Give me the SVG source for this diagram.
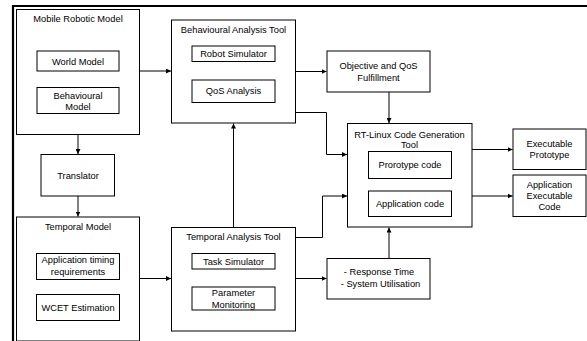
<svg xmlns="http://www.w3.org/2000/svg" width="587" height="341" viewBox="0 0 587 341">
<defs>
<style>
.b{fill:#fff;stroke:#000;stroke-width:1}
.t{font-family:"Liberation Sans",Arial,sans-serif;font-size:9.3px;fill:#000;text-anchor:middle}
.c{fill:none;stroke:#000;stroke-width:1}
</style>
<marker id="a" viewBox="0 0 6 6" refX="6" refY="3" markerWidth="5" markerHeight="5" markerUnits="userSpaceOnUse" orient="auto">
<path d="M0,0 L6,3 L0,6 z" fill="#000"/>
</marker>
</defs>
<rect width="587" height="341" fill="#fff"/>
<path d="M13,341 V6 H587" fill="none" stroke="#000" stroke-width="2.2"/>

<g id="mobile-robotic-model">
<rect class="b" x="16.5" y="9.5" width="123" height="125"/>
<text class="t" x="78" y="22">Mobile Robotic Model</text>
<rect class="b" x="37" y="51" width="82" height="20"/>
<text class="t" x="78" y="64.5">World Model</text>
<rect class="b" x="37" y="87.5" width="82" height="26"/>
<text class="t" x="78" y="98.5">Behavioural</text>
<text class="t" x="78" y="110">Model</text>
</g>

<g id="translator">
<rect class="b" x="41" y="154.5" width="73.5" height="41.5"/>
<text class="t" x="78" y="178.5">Translator</text>
</g>

<g id="temporal-model">
<rect class="b" x="16.5" y="217" width="123" height="124"/>
<text class="t" x="78" y="230">Temporal Model</text>
<rect class="b" x="36.5" y="253.5" width="83" height="26"/>
<text class="t" x="78" y="262.5">Application timing</text>
<text class="t" x="78" y="275">requirements</text>
<rect class="b" x="36.5" y="294.5" width="83" height="26"/>
<text class="t" x="78" y="310.5">WCET Estimation</text>
</g>

<g id="behavioural-analysis-tool">
<rect class="b" x="171.5" y="20" width="124" height="103"/>
<text class="t" x="233.5" y="33">Behavioural Analysis Tool</text>
<rect class="b" x="192" y="46" width="83" height="15.5"/>
<text class="t" x="233.5" y="57">Robot Simulator</text>
<rect class="b" x="192" y="80" width="83" height="22.5"/>
<text class="t" x="233.5" y="94">QoS Analysis</text>
</g>

<g id="temporal-analysis-tool">
<rect class="b" x="171.5" y="227.5" width="124" height="103.5"/>
<text class="t" x="233.5" y="240">Temporal Analysis Tool</text>
<rect class="b" x="192" y="253.5" width="83" height="15.5"/>
<text class="t" x="233.5" y="264.5">Task Simulator</text>
<rect class="b" x="192" y="287" width="83" height="23"/>
<text class="t" x="233.5" y="296">Parameter</text>
<text class="t" x="233.5" y="307.5">Monitoring</text>
</g>

<g id="objective-qos">
<rect class="b" x="327" y="51" width="103" height="41"/>
<text class="t" x="378.5" y="69">Objective and QoS</text>
<text class="t" x="378.5" y="80.5">Fulfillment</text>
</g>

<g id="rt-linux">
<rect class="b" x="347.5" y="123.5" width="124.5" height="103.5"/>
<text class="t" x="409.5" y="137.5">RT-Linux Code Generation</text>
<text class="t" x="409.5" y="148">Tool</text>
<rect class="b" x="368.5" y="151.5" width="83" height="27"/>
<text class="t" x="410" y="168">Prorotype code</text>
<rect class="b" x="368.5" y="191" width="83" height="25.5"/>
<text class="t" x="410" y="206.5">Application code</text>
</g>

<g id="response-time">
<rect class="b" x="327" y="258.5" width="103" height="40.5"/>
<text class="t" x="379" y="275">- Response Time</text>
<text class="t" x="380.5" y="286.5">- System Utilisation</text>
</g>

<g id="executable-prototype">
<rect class="b" x="513" y="129" width="73" height="40.5"/>
<text class="t" x="549.5" y="147">Executable</text>
<text class="t" x="549.5" y="158">Prototype</text>
</g>

<g id="application-executable-code">
<rect class="b" x="513" y="175" width="73" height="41.5"/>
<text class="t" x="549.5" y="188">Application</text>
<text class="t" x="549.5" y="199">Executable</text>
<text class="t" x="549.5" y="210">Code</text>
</g>

<g id="connectors">
<path class="c" d="M139.5,71 H171" marker-end="url(#a)"/>
<path class="c" d="M78,134.5 V154" marker-end="url(#a)"/>
<path class="c" d="M78,196 V216.5" marker-end="url(#a)"/>
<path class="c" d="M139.5,278.5 H171" marker-end="url(#a)"/>
<path class="c" d="M233.5,227.5 V123.5" marker-end="url(#a)"/>
<path class="c" d="M295.5,71.5 H326.5" marker-end="url(#a)"/>
<path class="c" d="M389,92 V123" marker-end="url(#a)"/>
<path class="c" d="M295.5,112.5 H326.5 V154.5 H347" marker-end="url(#a)"/>
<path class="c" d="M295.5,237.5 H322.5 V196 H347" marker-end="url(#a)"/>
<path class="c" d="M295.5,278.5 H326.5" marker-end="url(#a)"/>
<path class="c" d="M389,258.5 V227.5" marker-end="url(#a)"/>
<path class="c" d="M472,149.5 H512.5" marker-end="url(#a)"/>
<path class="c" d="M472,196 H512.5" marker-end="url(#a)"/>
</g>
</svg>
